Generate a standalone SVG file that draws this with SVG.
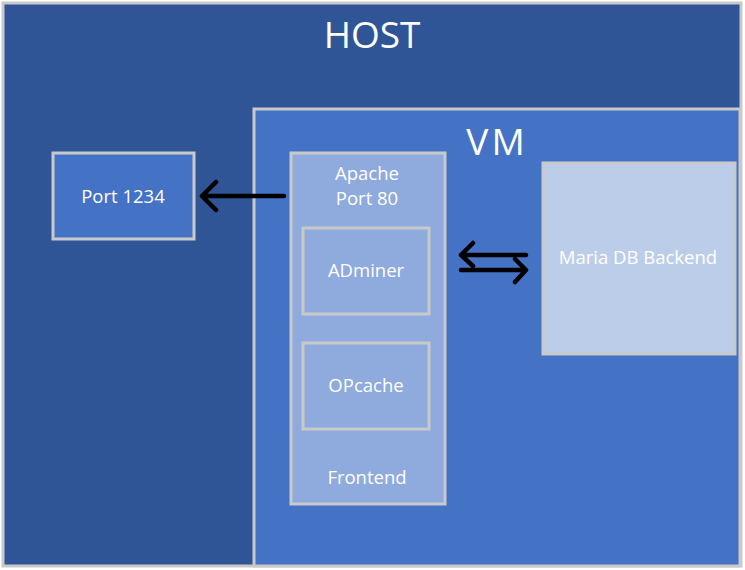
<svg xmlns="http://www.w3.org/2000/svg" width="745" height="570" viewBox="0 0 745 570">
<defs>
<style>
.box{stroke:#c9c9c9;stroke-width:3}
.t{font-family:"Open Sans","Liberation Sans",sans-serif;fill:#ffffff;text-anchor:middle;dominant-baseline:central;font-size:18.5px}
.big{font-family:"Open Sans","Liberation Sans",sans-serif;fill:#ffffff;text-anchor:middle;font-size:37px}
.ln{stroke:#000;stroke-width:4.5;stroke-linecap:round;stroke-linejoin:round;fill:none}
</style>
</defs>
<g id="host">
<rect class="box" x="3" y="3" width="738" height="563" fill="#2f5597"/>
<text class="big" x="372" y="48">HOST</text>
</g>
<g id="vm">
<rect class="box" x="254" y="109" width="486" height="457" fill="#4472c4"/>
<text class="big" x="497" y="155" letter-spacing="3">VM</text>
</g>
<g id="port1234">
<rect class="box" x="53" y="153" width="141" height="86" fill="#4472c4"/>
<text class="t" x="123" y="195">Port 1234</text>
</g>
<g id="apache">
<rect class="box" x="291" y="153" width="154" height="351" fill="#8faadc"/>
<text class="t" x="367" y="172">Apache</text>
<text class="t" x="367" y="197">Port 80</text>
<text class="t" x="367" y="476">Frontend</text>
</g>
<g id="adminer">
<rect class="box" x="303" y="228" width="126" height="86" fill="#8faadc"/>
<text class="t" x="366" y="269">ADminer</text>
</g>
<g id="opcache">
<rect class="box" x="303" y="343" width="126" height="86" fill="#8faadc"/>
<text class="t" x="366" y="384">OPcache</text>
</g>
<g id="mariadb">
<rect class="box" x="543" y="163" width="192" height="191" fill="#bccde9"/>
<text class="t" x="638" y="256">Maria DB Backend</text>
</g>
<g id="connectors">
<path class="ln" d="M284 196 H202 M216 182 L202 196 L216 210"/>
<path class="ln" d="M526 255 H461 M473 243 L461 255 L473 266"/>
<path class="ln" d="M461 270 H526 M515 259 L526 270 L515 282"/>
</g>
</svg>
